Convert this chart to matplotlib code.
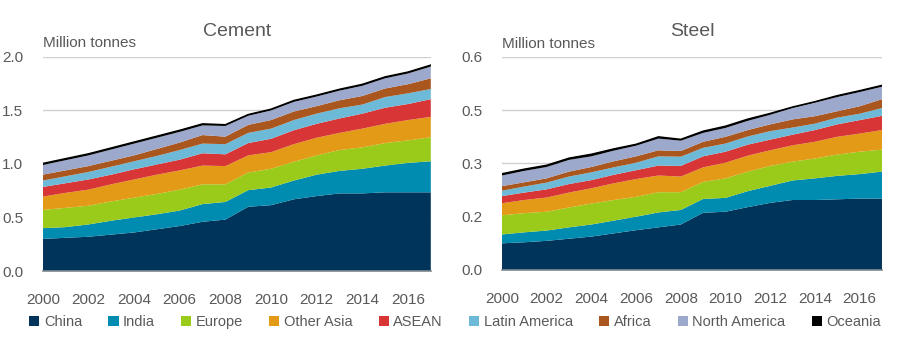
import numpy as np
import matplotlib.pyplot as plt
from matplotlib.patches import Patch

plt.rcParams['font.family'] = ['Liberation Sans', 'DejaVu Sans']

years = list(range(2000, 2018))
regions = ["China", "India", "Europe", "Other Asia", "ASEAN", "Latin America",
           "Africa", "North America", "Oceania"]
colors = ["#00345A", "#008CB0", "#9ACB1A", "#E39A16", "#D83636", "#6DBAD8",
          "#A9561F", "#9CA8CC", "#000000"]

# cement, million tonnes
cement_china = [0.30, 0.31, 0.32, 0.34, 0.36, 0.39, 0.42, 0.46, 0.48, 0.60, 0.615, 0.67, 0.70, 0.725, 0.725, 0.735, 0.735, 0.735]
cement_india = [0.10, 0.10, 0.115, 0.13, 0.14, 0.14, 0.145, 0.165, 0.165, 0.155, 0.165, 0.175, 0.20, 0.21, 0.23, 0.25, 0.275, 0.29]
cement_europe = [0.17, 0.18, 0.175, 0.18, 0.185, 0.19, 0.195, 0.185, 0.165, 0.165, 0.175, 0.175, 0.18, 0.195, 0.20, 0.21, 0.21, 0.225]
cement_other_asia = [0.125, 0.14, 0.15, 0.16, 0.17, 0.18, 0.18, 0.175, 0.17, 0.16, 0.155, 0.165, 0.165, 0.16, 0.175, 0.18, 0.19, 0.19]
cement_asean = [0.09, 0.09, 0.095, 0.09, 0.095, 0.095, 0.10, 0.115, 0.11, 0.115, 0.125, 0.13, 0.13, 0.135, 0.14, 0.15, 0.15, 0.165]
cement_latam = [0.06, 0.065, 0.07, 0.075, 0.075, 0.08, 0.09, 0.09, 0.095, 0.095, 0.095, 0.095, 0.095, 0.095, 0.085, 0.10, 0.10, 0.095]
cement_africa = [0.055, 0.055, 0.055, 0.055, 0.055, 0.065, 0.07, 0.08, 0.07, 0.075, 0.08, 0.08, 0.07, 0.075, 0.08, 0.08, 0.085, 0.10]
cement_nam = [0.09, 0.095, 0.10, 0.105, 0.11, 0.105, 0.10, 0.09, 0.10, 0.085, 0.09, 0.09, 0.09, 0.09, 0.095, 0.095, 0.10, 0.11]
cement_oceania = [0.015, 0.015, 0.015, 0.015, 0.015, 0.015, 0.015, 0.015, 0.012, 0.012, 0.012, 0.013, 0.013, 0.013, 0.014, 0.014, 0.014, 0.014]

# steel, million tonnes
steel_china = [0.075, 0.078, 0.082, 0.088, 0.094, 0.103, 0.112, 0.120, 0.128, 0.161, 0.164, 0.177, 0.189, 0.197, 0.197, 0.199, 0.201, 0.201]
steel_india = [0.025, 0.028, 0.029, 0.032, 0.034, 0.036, 0.038, 0.042, 0.041, 0.039, 0.039, 0.045, 0.048, 0.055, 0.061, 0.066, 0.069, 0.076]
steel_europe = [0.054, 0.054, 0.053, 0.056, 0.059, 0.058, 0.056, 0.057, 0.050, 0.048, 0.055, 0.055, 0.056, 0.053, 0.056, 0.060, 0.063, 0.062]
steel_other_asia = [0.034, 0.037, 0.040, 0.042, 0.043, 0.047, 0.050, 0.047, 0.044, 0.041, 0.044, 0.045, 0.044, 0.046, 0.047, 0.050, 0.051, 0.055]
steel_asean = [0.020, 0.021, 0.023, 0.024, 0.023, 0.024, 0.025, 0.028, 0.030, 0.031, 0.031, 0.031, 0.030, 0.030, 0.033, 0.035, 0.038, 0.040]
steel_latam = [0.015, 0.017, 0.019, 0.021, 0.022, 0.021, 0.021, 0.026, 0.026, 0.024, 0.023, 0.023, 0.024, 0.020, 0.018, 0.019, 0.018, 0.022]
steel_africa = [0.013, 0.012, 0.012, 0.014, 0.015, 0.017, 0.018, 0.017, 0.016, 0.017, 0.019, 0.018, 0.019, 0.023, 0.021, 0.018, 0.021, 0.025]
steel_nam = [0.030, 0.032, 0.032, 0.033, 0.030, 0.030, 0.030, 0.033, 0.029, 0.025, 0.025, 0.026, 0.027, 0.032, 0.038, 0.040, 0.040, 0.035]
steel_oceania = [0.005, 0.005, 0.005, 0.005, 0.006, 0.005, 0.004, 0.005, 0.004, 0.005, 0.005, 0.005, 0.004, 0.003, 0.003, 0.004, 0.004, 0.004]

cement = [cement_china, cement_india, cement_europe, cement_other_asia, cement_asean,
          cement_latam, cement_africa, cement_nam, cement_oceania]
steel = [steel_china, steel_india, steel_europe, steel_other_asia, steel_asean,
         steel_latam, steel_africa, steel_nam, steel_oceania]

cement_ticks = [0, 0.5, 1.0, 1.5, 2.0]
cement_ticklabels = ["0.0", "0.5", "1.0", "1.5", "2.0"]
steel_ticks = [0, 0.15, 0.3, 0.45, 0.6]
steel_ticklabels = ["0.0", "0.2", "0.3", "0.5", "0.6"]

grey = "#595959"

fig = plt.figure(figsize=(9.1, 3.47), dpi=100)
ax1 = fig.add_axes([0.047, 0.219, 0.4264, 0.617])
ax2 = fig.add_axes([0.5516, 0.222, 0.4176, 0.614])


def draw(ax, data, title, ticks, ticklabels, ymax):
    ax.stackplot(years, *data, colors=colors, linewidth=0)
    # thin black edge along the top of the stack
    ax.plot(years, np.sum(data, axis=0), color="black", lw=1.0)
    ax.set_xlim(2000, 2017)
    ax.set_ylim(0, ymax)
    ax.set_yticks(ticks)
    ax.set_yticklabels(ticklabels)
    ax.set_xticks(years[::2])
    ax.grid(axis="y", color="#D0D0D0", lw=1)
    ax.set_axisbelow(True)
    for s in ["left", "right", "top"]:
        ax.spines[s].set_visible(False)
    ax.spines["bottom"].set_color("#7F8790")
    ax.spines["bottom"].set_linewidth(1.2)
    ax.spines["bottom"].set_zorder(5)
    ax.tick_params(axis="both", length=0, labelsize=11, colors=grey)
    ax.tick_params(axis="y", pad=14)
    ax.tick_params(axis="x", pad=16)
    ax.set_title(title, fontsize=14, color=grey, pad=15)
    ax.text(0.0, 1.03, "Million tonnes", transform=ax.transAxes, fontsize=11,
            color=grey, ha="left", va="bottom")


draw(ax1, cement, "Cement", cement_ticks, cement_ticklabels, 2.0)
draw(ax2, steel, "Steel", steel_ticks, steel_ticklabels, 0.6)

handles = [Patch(facecolor=c, label=r) for c, r in zip(colors, regions)]
fig.legend(handles=handles, loc="center", bbox_to_anchor=(0.5, 0.072), ncol=9,
           frameon=False, fontsize=10.5, handlelength=0.7, handleheight=0.7,
           handletextpad=0.3, columnspacing=1.8, labelcolor=grey,
           borderaxespad=0, borderpad=0)

fig.savefig("out.png", dpi=100)
